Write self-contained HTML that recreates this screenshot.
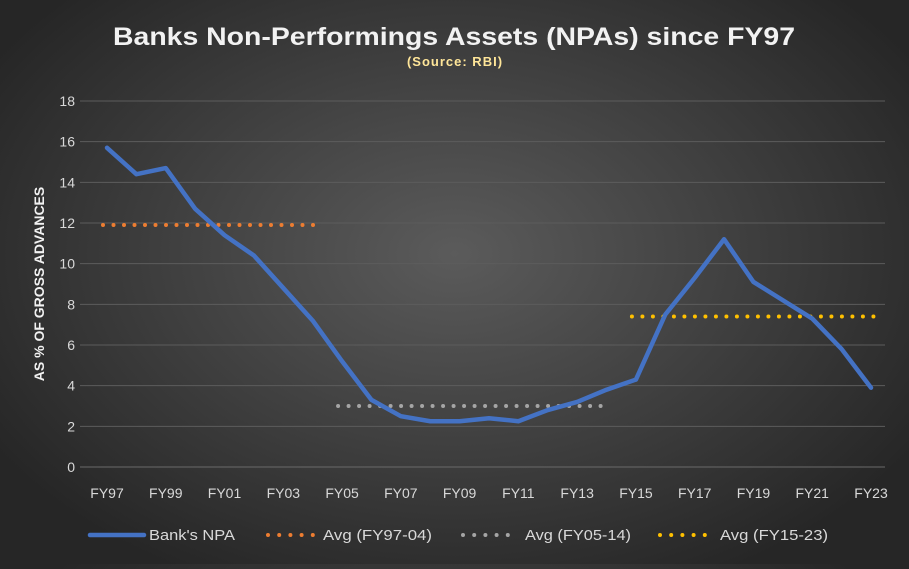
<!DOCTYPE html>
<html><head><meta charset="utf-8"><style>
html,body{margin:0;padding:0;}
body{width:909px;height:564px;overflow:hidden;background:radial-gradient(ellipse 60% 65% at 50% 45%,#5b5b5b 0%,#3e3e3e 55%,#262626 100%);font-family:"Liberation Sans",sans-serif;}
</style></head><body>
<svg id="chart" width="909" height="564" xmlns="http://www.w3.org/2000/svg">
<text x="113" y="45" textLength="682" lengthAdjust="spacingAndGlyphs" fill="#f2f2f2" font-size="25" font-weight="bold">Banks Non-Performings Assets (NPAs) since FY97</text>
<text x="455" y="66" text-anchor="middle" fill="#ffe699" font-size="13" font-weight="bold" letter-spacing="1">(Source: RBI)</text>
<text transform="translate(44,284) rotate(-90)" text-anchor="middle" fill="#f2f2f2" font-size="14" font-weight="bold">AS % OF GROSS ADVANCES</text>
<g id="grid"></g><g id="series"></g>
<g font-size="15" fill="#d9d9d9">
<line x1="90" y1="535" x2="144" y2="535" stroke="#4472c4" stroke-width="4.5" stroke-linecap="round"/>
<text x="149" y="540" textLength="86" lengthAdjust="spacingAndGlyphs">Bank's NPA</text>
<line x1="268" y1="535" x2="313.5" y2="535" stroke="#ed7d31" stroke-width="4" stroke-linecap="round" stroke-dasharray="0 11.2"/>
<text x="323" y="540" textLength="109" lengthAdjust="spacingAndGlyphs">Avg (FY97-04)</text>
<line x1="463" y1="535" x2="508.5" y2="535" stroke="#a5a5a5" stroke-width="4" stroke-linecap="round" stroke-dasharray="0 11.2"/>
<text x="525" y="540" textLength="106" lengthAdjust="spacingAndGlyphs">Avg (FY05-14)</text>
<line x1="660" y1="535" x2="705.5" y2="535" stroke="#ffc000" stroke-width="4" stroke-linecap="round" stroke-dasharray="0 11.2"/>
<text x="720" y="540" textLength="108" lengthAdjust="spacingAndGlyphs">Avg (FY15-23)</text>
</g>
</svg>
<script>
const years=["FY97","FY98","FY99","FY00","FY01","FY02","FY03","FY04","FY05","FY06","FY07","FY08","FY09","FY10","FY11","FY12","FY13","FY14","FY15","FY16","FY17","FY18","FY19","FY20","FY21","FY22","FY23"];
const npa=[15.7,14.4,14.7,12.7,11.4,10.4,8.8,7.2,5.2,3.3,2.5,2.25,2.25,2.4,2.25,2.8,3.2,3.8,4.3,7.5,9.3,11.2,9.1,8.2,7.3,5.8,3.9];
const avgValues=[11.9,3.0,7.4];
const avgStart=[0,8,18];
const avgEnd=[7,17,26];
const avgColors=["#ed7d31","#a5a5a5","#ffc000"];
const yTicks=[0,2,4,6,8,10,12,14,16,18];
const NS="http://www.w3.org/2000/svg";
const x=i=>107+i*(871-107)/(years.length-1);
const y=v=>467-v*(366/18);
const grid=document.getElementById('grid'),ser=document.getElementById('series');
function mk(tag,attrs,parent){const e=document.createElementNS(NS,tag);for(const k in attrs)e.setAttribute(k,attrs[k]);parent.appendChild(e);return e;}
yTicks.forEach(t=>{
 const l=mk('line',{x1:80,x2:885,y1:y(t),y2:y(t),stroke:t===0?'#6a6a6a':'#5c5c5c','stroke-width':1},grid);
 
 
 const tx=mk('text',{x:75,y:y(t)+5,'text-anchor':'end',fill:'#d9d9d9','font-size':14},grid);
 tx.textContent=t;
 
 
});
years.forEach((yr,i)=>{if(i%2)return;
 const tx=mk('text',{x:x(i),y:498,'text-anchor':'middle',fill:'#d9d9d9','font-size':14},grid);
 tx.textContent=yr;
 
 
});
avgValues.forEach((v,k)=>{
 const l=mk('line',{x1:x(avgStart[k])-4,x2:x(avgEnd[k])+4,y1:y(v),y2:y(v),stroke:avgColors[k],'stroke-width':4,'stroke-linecap':'round','stroke-dasharray':'0 10.5'},ser);
 
 
});
const p=mk('polyline',{points:npa.map((v,i)=>x(i)+','+y(v)).join(' '),fill:'none',stroke:'#4472c4','stroke-width':4.5,'stroke-linejoin':'round','stroke-linecap':'round'},ser);


</script>
</body></html>
